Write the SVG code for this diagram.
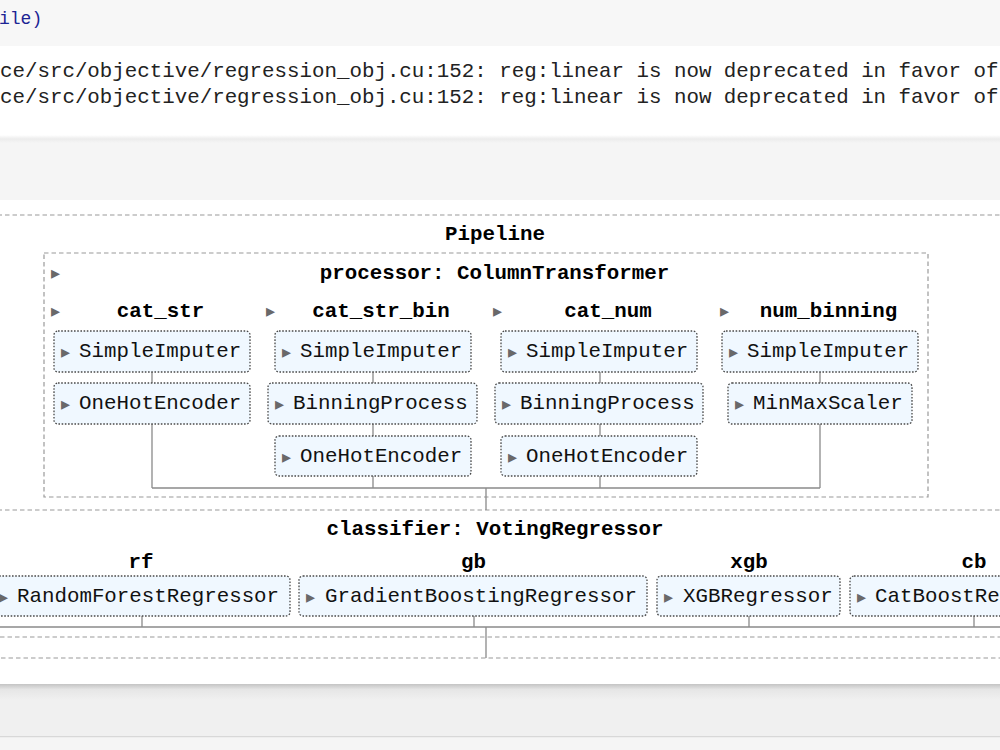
<svg xmlns="http://www.w3.org/2000/svg" width="1000" height="750" viewBox="0 0 1000 750">
<defs>
<linearGradient id="sh1" x1="0" y1="0" x2="0" y2="1"><stop offset="0" stop-color="#ffffff"/><stop offset="0.5" stop-color="#ececec"/><stop offset="1" stop-color="#f5f5f5"/></linearGradient>
<linearGradient id="sh2" x1="0" y1="0" x2="0" y2="1"><stop offset="0" stop-color="#c4c4c4"/><stop offset="0.35" stop-color="#e6e6e6"/><stop offset="1" stop-color="#f0f0f0"/></linearGradient>
<style>
.mono{font-family:"Liberation Mono","DejaVu Sans Mono",monospace;font-size:20.8px;fill:#111}
.code{font-family:"Liberation Mono","DejaVu Sans Mono",monospace;font-size:18px;fill:#1c2494}
.out{font-family:"Liberation Mono","DejaVu Sans Mono",monospace;font-size:20.8px;fill:#222}
.lbl{font-family:"Liberation Mono","DejaVu Sans Mono",monospace;font-size:20.8px;font-weight:bold;fill:#000;text-anchor:middle}
.tri{font-family:"DejaVu Sans",sans-serif;font-size:18px;fill:#696969}
.est{fill:#f0f8ff;stroke:#4a4a4a;stroke-width:1.3;stroke-dasharray:1.6 1.6}
.dash{fill:none;stroke:#9a9a9a;stroke-width:1.2;stroke-dasharray:4.5 3}
.con{fill:none;stroke:#8a8a8a;stroke-width:1.3}
</style>
</defs>
<!-- background -->
<rect x="0" y="0" width="1000" height="750" fill="#f7f7f7"/>
<rect x="0" y="46" width="1000" height="89" fill="#ffffff"/>
<rect x="0" y="135" width="1000" height="8" fill="url(#sh1)"/>
<rect x="0" y="143" width="1000" height="57" fill="#f5f5f5"/>
<rect x="0" y="200" width="1000" height="484" fill="#ffffff"/>
<rect x="0" y="684" width="1000" height="16" fill="url(#sh2)"/>
<rect x="0" y="700" width="1000" height="36" fill="#f0f0f0"/>
<rect x="0" y="736" width="1000" height="1.5" fill="#d8d8d8"/>
<rect x="0" y="737.5" width="1000" height="12.5" fill="#f5f5f5"/>
<text class="code" x="-1" y="24">ile)</text>
<text class="out" x="0" y="77">ce/src/objective/regression_obj.cu:152: reg:linear is now deprecated in favor of</text>
<text class="out" x="0" y="103">ce/src/objective/regression_obj.cu:152: reg:linear is now deprecated in favor of</text>

<!-- containers -->
<g id="pipeline">
<rect class="dash" x="-10" y="215" width="1020" height="443"/>
<text class="lbl" x="495" y="240">Pipeline</text>
</g>
<g id="processor">
<rect class="dash" x="44" y="253" width="884" height="244"/>
<text class="tri" x="51" y="279">▸</text>
<text class="lbl" x="494.5" y="279">processor: ColumnTransformer</text>
</g>
<g id="cat_str">
<text class="tri" x="51" y="317">▸</text>
<text class="lbl" x="160.5" y="317">cat_str</text>
</g>
<g id="cat_str_bin">
<text class="tri" x="266" y="317">▸</text>
<text class="lbl" x="381" y="317">cat_str_bin</text>
</g>
<g id="cat_num">
<text class="tri" x="493" y="317">▸</text>
<text class="lbl" x="608" y="317">cat_num</text>
</g>
<g id="num_binning">
<text class="tri" x="720" y="317">▸</text>
<text class="lbl" x="828.5" y="317">num_binning</text>
</g>
<g id="classifier">
<rect class="dash" x="-10" y="510" width="1020" height="127"/>
<text class="lbl" x="495" y="535">classifier: VotingRegressor</text>
<text class="lbl" x="141" y="568">rf</text>
<text class="lbl" x="473.5" y="568">gb</text>
<text class="lbl" x="749" y="568">xgb</text>
<text class="lbl" x="974" y="568">cb</text>
</g>

<!-- connectors -->
<g id="connectors">
<path class="con" d="M152 372V383M152 424V488M373 372V383M373 424V436M373 476V488M600 372V383M600 424V436M600 476V488M820 372V383M820 424V488M152 488H820M486 488V510"/>
<path class="con" d="M142 616V627M474 616V627M749 616V627M974 616V627M0 627H1000M486 627V658"/>
</g>

<!-- estimator nodes -->
<g id="cs_imputer"><rect class="est" x="54" y="331" width="196" height="41" rx="4"/><text class="tri" x="61" y="358">▸</text><text class="mono" x="79" y="357">SimpleImputer</text></g>
<g id="cs_onehot"><rect class="est" x="54" y="383" width="196" height="41" rx="4"/><text class="tri" x="61" y="410">▸</text><text class="mono" x="79" y="409">OneHotEncoder</text></g>

<g id="csb_imputer"><rect class="est" x="275" y="331" width="196" height="41" rx="4"/><text class="tri" x="282" y="358">▸</text><text class="mono" x="300" y="357">SimpleImputer</text></g>
<g id="csb_binning"><rect class="est" x="268" y="383" width="209" height="41" rx="4"/><text class="tri" x="275" y="410">▸</text><text class="mono" x="293" y="409">BinningProcess</text></g>
<g id="csb_onehot"><rect class="est" x="275" y="436" width="196" height="40" rx="4"/><text class="tri" x="282" y="463">▸</text><text class="mono" x="300" y="462">OneHotEncoder</text></g>

<g id="cn_imputer"><rect class="est" x="501" y="331" width="196" height="41" rx="4"/><text class="tri" x="508" y="358">▸</text><text class="mono" x="526" y="357">SimpleImputer</text></g>
<g id="cn_binning"><rect class="est" x="495" y="383" width="208" height="41" rx="4"/><text class="tri" x="502" y="410">▸</text><text class="mono" x="520" y="409">BinningProcess</text></g>
<g id="cn_onehot"><rect class="est" x="501" y="436" width="196" height="40" rx="4"/><text class="tri" x="508" y="463">▸</text><text class="mono" x="526" y="462">OneHotEncoder</text></g>

<g id="nb_imputer"><rect class="est" x="722" y="331" width="196" height="41" rx="4"/><text class="tri" x="729" y="358">▸</text><text class="mono" x="747" y="357">SimpleImputer</text></g>
<g id="nb_minmax"><rect class="est" x="728" y="383" width="184" height="41" rx="4"/><text class="tri" x="735" y="410">▸</text><text class="mono" x="753" y="409">MinMaxScaler</text></g>

<g id="rf_node"><rect class="est" x="-8" y="576" width="298" height="40" rx="4"/><text class="tri" x="-1" y="603">▸</text><text class="mono" x="17" y="602">RandomForestRegressor</text></g>
<g id="gb_node"><rect class="est" x="299" y="576" width="348" height="40" rx="4"/><text class="tri" x="306" y="603">▸</text><text class="mono" x="325" y="602">GradientBoostingRegressor</text></g>
<g id="xgb_node"><rect class="est" x="657" y="576" width="183" height="40" rx="4"/><text class="tri" x="664" y="603">▸</text><text class="mono" x="683" y="602">XGBRegressor</text></g>
<g id="cb_node"><rect class="est" x="850" y="576" width="200" height="40" rx="4"/><text class="tri" x="857" y="603">▸</text><text class="mono" x="875" y="602">CatBoostRegressor</text></g>
</svg>
